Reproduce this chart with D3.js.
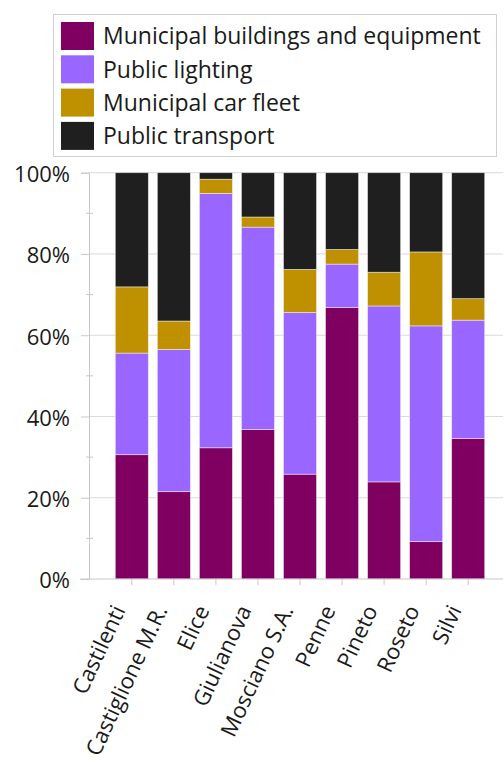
<!DOCTYPE html>
<html>
<head>
<meta charset="utf-8">
<script src="https://cdn.jsdelivr.net/npm/d3@7"></script>
<style>
  html, body { margin: 0; padding: 0; background: #fff; }
  svg { display: block; }
  text { font-family: "Open Sans", sans-serif; fill: #1a1a1a; }
</style>
</head>
<body>
<svg id="chart" width="504" height="762"></svg>
<script>
const categories = ["Castilenti", "Castiglione M.R.", "Elice", "Giulianova", "Mosciano S.A.", "Penne", "Pineto", "Roseto", "Silvi"];
const seriesNames = ["Municipal buildings and equipment", "Public lighting", "Municipal car fleet", "Public transport"];
const municipalBuildings = [30.6, 21.5, 32.3, 36.8, 25.8, 66.8, 23.9, 9.2, 34.6];
const publicLighting     = [25.0, 35.0, 62.6, 49.8, 39.8, 10.7, 43.3, 53.1, 29.1];
const carFleet           = [16.3, 7.0, 3.5, 2.5, 10.6, 3.6, 8.3, 18.2, 5.3];
const publicTransport    = [28.1, 36.5, 1.6, 10.9, 23.8, 18.9, 24.5, 19.5, 31.0];
const yTicks = [0, 20, 40, 60, 80, 100];
const yMinorTicks = [10, 30, 50, 70, 90];
const colors = ["#7f0060", "#9966ff", "#bf9000", "#1f1f1f"];

const series = [municipalBuildings, publicLighting, carFleet, publicTransport];
const table = categories.map((c, i) => {
  const row = { category: c };
  seriesNames.forEach((s, j) => row[s] = series[j][i]);
  return row;
});

const svg = d3.select("#chart");
const axisX0 = 89, plotRight = 503, plotTop = 172.7, plotBottom = 579;

const x = d3.scaleBand().domain(categories).range([110.8, 489.2]).paddingInner(0.214).paddingOuter(0.107);
const y = d3.scaleLinear().domain([0, 100]).range([plotBottom, plotTop]);

// gridlines
svg.append("g").selectAll("line").data(yTicks.filter(d => d > 0)).join("line")
  .attr("x1", axisX0).attr("x2", plotRight)
  .attr("y1", d => y(d)).attr("y2", d => y(d))
  .attr("stroke", "#d9d9d9").attr("stroke-width", 1);

// y axis
const yAxis = d3.axisLeft(y).tickValues(yTicks).tickFormat(d => d + "%").tickSize(8).tickPadding(11);
const yg = svg.append("g").attr("transform", `translate(${axisX0},0)`).call(yAxis);
yg.select(".domain").attr("stroke", "#c8c8c8");
yg.selectAll(".tick line").attr("stroke", "#c8c8c8");
yg.selectAll(".tick text").attr("font-size", 22).attr("font-family", "Open Sans, sans-serif").attr("fill", "#1a1a1a").attr("dy", "0.4em");
// minor ticks
svg.append("g").selectAll("line").data(yMinorTicks).join("line")
  .attr("x1", axisX0 - 3).attr("x2", axisX0 + 4)
  .attr("y1", d => y(d)).attr("y2", d => y(d))
  .attr("stroke", "#c8c8c8");

// bars
const stack = d3.stack().keys(seriesNames);
const stacked = stack(table);
svg.append("g").selectAll("g").data(stacked).join("g")
  .attr("fill", (d, i) => colors[i])
  .selectAll("rect").data(d => d).join("rect")
  .attr("x", d => x(d.data.category))
  .attr("width", x.bandwidth())
  .attr("y", d => y(d[1]))
  .attr("height", d => y(d[0]) - y(d[1]))
  .attr("stroke", "#ffffff").attr("stroke-opacity", 0.55).attr("stroke-width", 0.8);

// x axis
const xAxis = d3.axisBottom(x).tickSize(6).tickFormat("");
const xg = svg.append("g").attr("transform", `translate(0,${plotBottom})`).call(xAxis);
xg.select(".domain").remove();
xg.selectAll(".tick line").attr("stroke", "#c8c8c8");
svg.append("line").attr("x1", 80).attr("x2", plotRight).attr("y1", plotBottom).attr("y2", plotBottom).attr("stroke", "#c8c8c8");

svg.append("g").selectAll("text").data(categories).join("text")
  .attr("transform", d => `translate(${x(d) + x.bandwidth() / 2 - 6},${plotBottom + 31}) rotate(-65)`)
  .attr("text-anchor", "end")
  .attr("font-size", 22)
  .text(d => d);

// legend
const lg = svg.append("g");
lg.append("rect").attr("x", 53.5).attr("y", 14.5).attr("width", 443).attr("height", 142)
  .attr("fill", "#fff").attr("stroke", "#d0d0d0");
const rows = lg.selectAll("g.item").data(seriesNames).join("g").attr("class", "item")
  .attr("transform", (d, i) => `translate(61,${22 + i * 33.3})`);
rows.append("rect").attr("width", 33).attr("height", 28).attr("fill", (d, i) => colors[i]);
rows.append("text").attr("x", 42).attr("y", 14).attr("dy", "0.36em").attr("font-size", 23).text(d => d);
</script>
</body>
</html>
